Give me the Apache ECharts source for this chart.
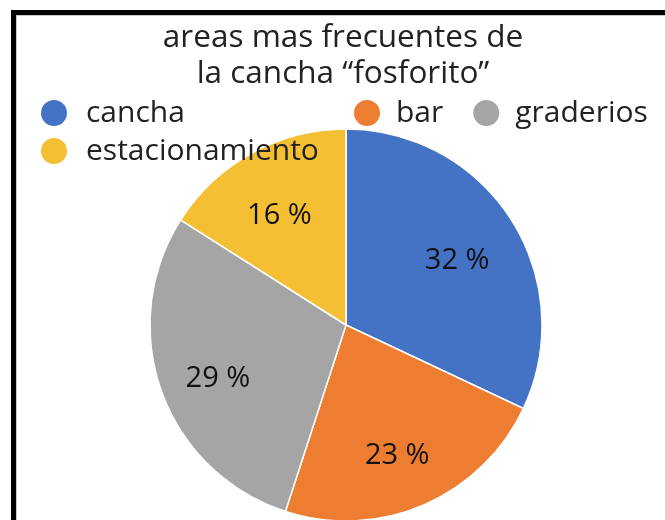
<!DOCTYPE html>
<html>
<head>
<meta charset="utf-8">
<script src="https://cdn.jsdelivr.net/npm/echarts@6/dist/echarts.min.js"></script>
<style>
    html, body { margin: 0; padding: 0; background: #fff; }
    #chart { width: 665px; height: 520px; }
</style>
</head>
<body>
<div id="chart"></div>
<script>
// datos del grafico
var categorias = ['cancha', 'bar', 'graderios', 'estacionamiento'];
var porcentajes = [32, 23, 29, 16];
var colores = ['#4472C4', '#ED7D31', '#A5A5A5', '#F5BF33'];
var titulo = 'areas mas frecuentes de\nla cancha \u201cfosforito\u201d';

var fuente = '"Open Sans", sans-serif';

// sectores con color
var datos = categorias.map(function (c, i) {
    return { name: c, value: porcentajes[i], itemStyle: { color: colores[i] } };
});
// mismos valores, solo para poner las etiquetas (transparente)
var datosEtiq = categorias.map(function (c, i) {
    return { name: c, value: porcentajes[i], itemStyle: { color: 'rgba(0,0,0,0)' } };
});

var myChart = echarts.init(document.getElementById('chart'));
var option = {
    backgroundColor: '#fff',
    animation: false,
    title: {
        text: titulo,
        left: 338,
        top: 15,
        textAlign: 'center',
        textStyle: {
            fontFamily: fuente,
            fontSize: 31.5,
            fontWeight: 'normal',
            color: '#222',
            lineHeight: 36
        }
    },
    legend: [{
        data: ['cancha', 'estacionamiento'],
        orient: 'vertical',
        left: 34,
        top: 93,
        padding: 5,
        icon: 'circle',
        itemWidth: 28,
        itemHeight: 28,
        itemGap: 8,
        textStyle: { fontFamily: fuente, fontSize: 30, color: '#222', padding: [0, 0, 0, 13] }
    }, {
        data: ['bar', 'graderios'],
        orient: 'horizontal',
        left: 347,
        top: 93,
        padding: 5,
        icon: 'circle',
        itemWidth: 28,
        itemHeight: 28,
        itemGap: 28,
        textStyle: { fontFamily: fuente, fontSize: 30, color: '#222', padding: [0, 0, 0, 10] }
    }],
    graphic: [
        // marco negro
        { type: 'rect', left: 11, top: 10, shape: { width: 5, height: 510 }, style: { fill: '#000' } },
        { type: 'rect', left: 11, top: 10, shape: { width: 654, height: 5 }, style: { fill: '#000' } },
        { type: 'rect', left: 16, top: 15, shape: { width: 1, height: 505 }, style: { fill: '#c8c8c8' } },
        { type: 'rect', left: 16, top: 15, shape: { width: 649, height: 1 }, style: { fill: '#c8c8c8' } }
    ],
    series: [{
        name: 'areas',
        type: 'pie',
        center: [346, 325],
        radius: [0, 196],
        startAngle: 90,
        clockwise: true,
        silent: true,
        data: datos,
        itemStyle: { borderColor: '#fff', borderWidth: 1.5 },
        label: { show: false },
        labelLine: { show: false }
    }, {
        name: 'etiquetas',
        type: 'pie',
        center: [346, 325],
        radius: [66, 196],
        startAngle: 90,
        clockwise: true,
        silent: true,
        data: datosEtiq,
        itemStyle: { borderWidth: 0 },
        label: {
            show: true,
            position: 'inside',
            formatter: '{c} %',
            offset: [-2, 8],
            fontFamily: fuente,
            fontSize: 29,
            color: '#111'
        },
        labelLine: { show: false }
    }]
};
myChart.setOption(option);
</script>
</body>
</html>
